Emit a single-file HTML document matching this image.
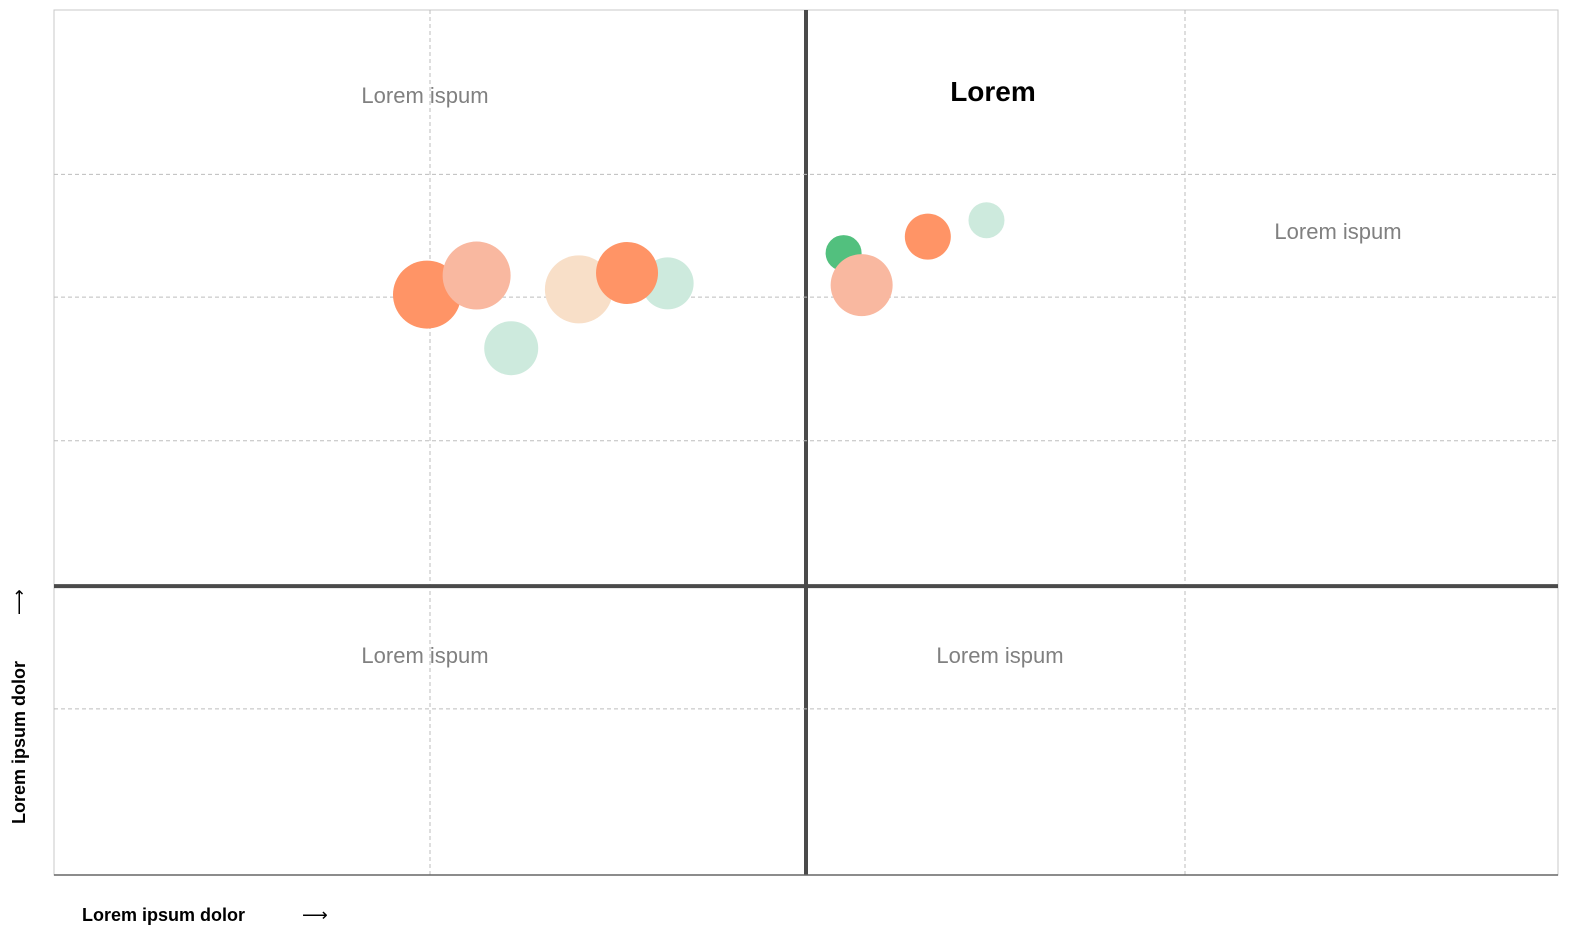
<!DOCTYPE html>
<html><head><meta charset="utf-8"><style>
body{margin:0;background:#fff;font-family:"Liberation Sans",sans-serif}
svg{display:block}
</style></head><body>
<svg id="chart" width="1575" height="943">
<rect x="54" y="10" width="1504" height="865" fill="none" stroke="#c8c8c8"/>
<g id="grid"></g><g id="bubbles"></g>
<line x1="54" y1="875" x2="1558" y2="875" stroke="#666" stroke-width="1.5"/>
<text x="425" y="103" font-size="22" fill="#808080" text-anchor="middle">Lorem ispum</text>
<text x="993" y="101" font-size="28" font-weight="bold" fill="#000" text-anchor="middle">Lorem</text>
<text x="1338" y="239" font-size="22" fill="#808080" text-anchor="middle">Lorem ispum</text>
<text x="425" y="663" font-size="22" fill="#808080" text-anchor="middle">Lorem ispum</text>
<text x="1000" y="663" font-size="22" fill="#808080" text-anchor="middle">Lorem ispum</text>
<text x="82" y="921" font-size="18" font-weight="bold" fill="#000">Lorem ipsum dolor</text>
<text x="302" y="921" font-size="18" fill="#000">⟶</text>
<text transform="translate(25,824) rotate(-90)" font-size="18" font-weight="bold" fill="#000">Lorem ipsum dolor</text>
<text transform="translate(25,615) rotate(-90)" font-size="18" fill="#000">⟶</text>
</svg>
<script>
const xGrid=[25,50,75.2];
const yGrid=[81,66.8,50.2,33.4,19.2];
const xThick=50, yThick=33.4;
const xVals=[24.8,28.1,30.4,34.9,40.8,38.1,52.5,53.7,58.1,62.0];
const yVals=[67.1,69.3,60.9,67.7,68.4,69.6,71.9,68.2,73.8,75.7];
const sizes=[34,34,27,34,26,31,18,31,23,18];
const colors=["#ff9466","#f9b8a0","#cdeadd","#f8dfc8","#cdeadd","#ff9466","#52c07e","#f9b8a0","#ff9466","#cdeadd"];
const NS="http://www.w3.org/2000/svg";
const X=v=>54+v*15.04, Y=v=>875-v*8.65;
const g=document.getElementById('grid');
xGrid.forEach((v,i)=>{const l=document.createElementNS(NS,'line');
l.setAttribute('x1',X(v));l.setAttribute('x2',X(v));l.setAttribute('y1',10);l.setAttribute('y2',875);
const t=v===xThick;l.setAttribute('stroke',t?'#4a4a4a':'#bdbdbd');l.setAttribute('stroke-width',t?4:1);if(!t)l.setAttribute('stroke-dasharray','4 3');


g.appendChild(l);});
yGrid.forEach((v,i)=>{const l=document.createElementNS(NS,'line');
l.setAttribute('x1',54);l.setAttribute('x2',1558);l.setAttribute('y1',Y(v));l.setAttribute('y2',Y(v));
const t=v===yThick;l.setAttribute('stroke',t?'#4a4a4a':'#bdbdbd');l.setAttribute('stroke-width',t?4:1);if(!t)l.setAttribute('stroke-dasharray','4 3');


g.appendChild(l);});
const b=document.getElementById('bubbles');
xVals.forEach((v,i)=>{const c=document.createElementNS(NS,'circle');
c.setAttribute('cx',X(v));c.setAttribute('cy',Y(yVals[i]));c.setAttribute('r',sizes[i]);c.setAttribute('fill',colors[i]);


b.appendChild(c);});
</script>
</body></html>
